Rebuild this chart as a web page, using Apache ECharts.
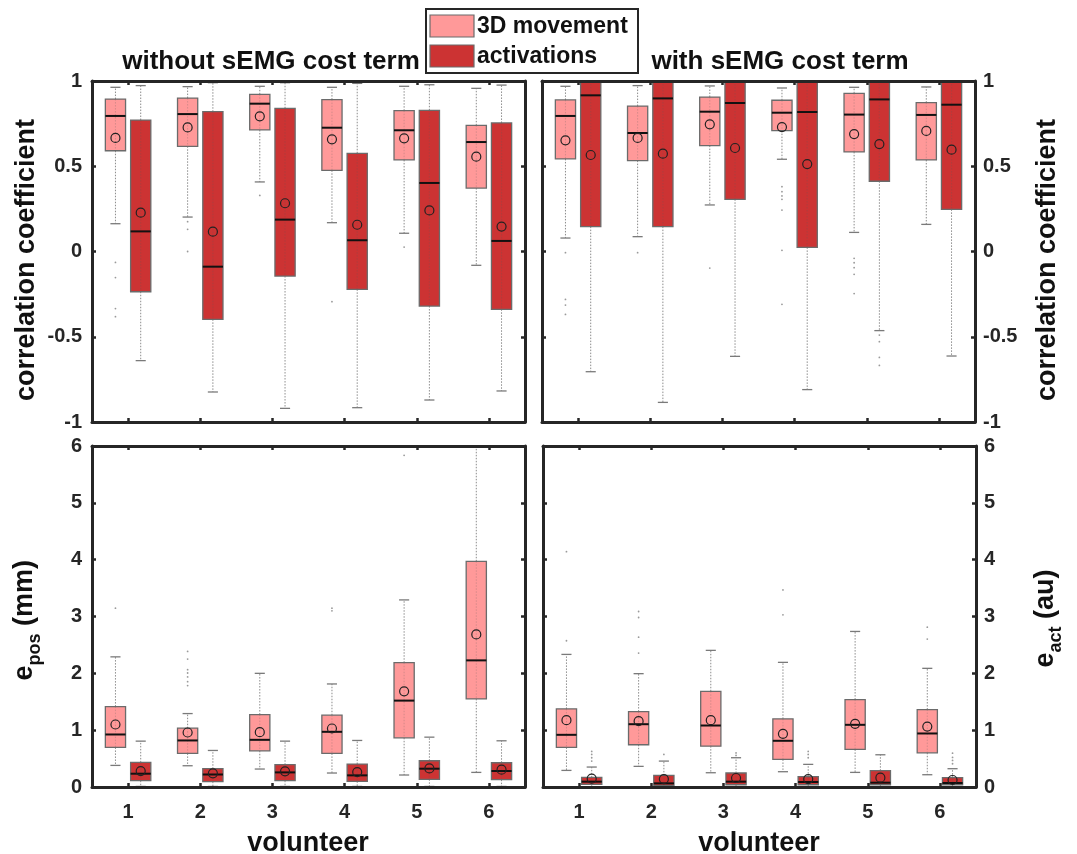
<!DOCTYPE html>
<html>
<head>
<meta charset="utf-8">
<script src="https://cdn.jsdelivr.net/npm/echarts@6/dist/echarts.min.js"></script>
<style>html,body{margin:0;padding:0;background:#fff}#c{width:1077px;height:854px}</style>
</head>
<body>
<div id="c"></div>
<script>
// ---------------- DATA ----------------
const volunteers = ['1', '2', '3', '4', '5', '6'];
const corrTicks = ['-1', '-0.5', '0', '0.5', '1'];
const errTicks = ['0', '1', '2', '3', '4', '5', '6'];

// each row: [lower whisker, Q1, median, Q3, upper whisker]
// correlation coefficient, without sEMG cost term
const corrNoEmgMove = [
  [0.163, 0.591, 0.795, 0.894, 0.963],
  [0.202, 0.617, 0.806, 0.900, 0.967],
  [0.408, 0.713, 0.867, 0.922, 0.969],
  [0.169, 0.476, 0.726, 0.891, 0.963],
  [0.107, 0.537, 0.711, 0.826, 0.969],
  [-0.081, 0.372, 0.642, 0.740, 0.957]
];
const corrNoEmgMoveMean = [0.666, 0.728, 0.793, 0.658, 0.664, 0.556];
const corrNoEmgMoveOut = [[0, -0.064], [0, -0.153], [0, -0.335], [0, -0.382], [1, 0.175], [1, 0.130], [1, 0.0], [2, 0.329], [3, -0.294], [4, 0.026]];
const corrNoEmgAct = [
  [-0.640, -0.236, 0.118, 0.771, 0.973],
  [-0.824, -0.398, -0.089, 0.820, 0.990],
  [-0.920, -0.144, 0.187, 0.840, 0.990],
  [-0.916, -0.222, 0.066, 0.576, 0.986],
  [-0.871, -0.320, 0.402, 0.828, 0.978],
  [-0.818, -0.339, 0.062, 0.754, 0.976]
];
const corrNoEmgActMean = [0.228, 0.116, 0.283, 0.157, 0.241, 0.146];
const corrNoEmgActOut = [];

// correlation coefficient, with sEMG cost term
const corrEmgMove = [
  [0.079, 0.543, 0.795, 0.889, 0.969],
  [0.087, 0.533, 0.695, 0.853, 0.973],
  [0.273, 0.621, 0.820, 0.906, 0.971],
  [0.541, 0.709, 0.814, 0.887, 0.959],
  [0.112, 0.584, 0.803, 0.928, 0.963],
  [0.159, 0.537, 0.801, 0.873, 0.965]
];
const corrEmgMoveMean = [0.652, 0.666, 0.746, 0.730, 0.689, 0.707];
const corrEmgMoveOut = [[0, -0.007], [0, -0.281], [0, -0.314], [0, -0.369], [1, -0.007], [2, -0.097],
  [3, 0.380], [3, 0.351], [3, 0.326], [3, 0.306], [3, 0.243], [3, 0.007], [3, -0.310],
  [4, -0.040], [4, -0.066], [4, -0.095], [4, -0.134], [4, -0.247]];
const corrEmgAct = [
  [-0.705, 0.146, 0.916, 1.0, 1.0],
  [-0.885, 0.146, 0.898, 1.0, 1.0],
  [-0.615, 0.306, 0.871, 1.0, 1.0],
  [-0.810, 0.024, 0.818, 1.0, 1.0],
  [-0.464, 0.412, 0.892, 1.0, 1.0],
  [-0.613, 0.247, 0.861, 1.0, 1.0]
];
const corrEmgActMean = [0.566, 0.574, 0.607, 0.513, 0.630, 0.597];
const corrEmgActOut = [[4, -0.490], [4, -0.529], [4, -0.621], [4, -0.668]];

// errors, without sEMG cost term
const errNoEmgMove = [
  [0.380, 0.696, 0.924, 1.415, 2.290],
  [0.374, 0.591, 0.819, 1.035, 1.292],
  [0.316, 0.637, 0.830, 1.275, 2.000],
  [0.246, 0.591, 0.971, 1.263, 1.813],
  [0.211, 0.865, 1.520, 2.187, 3.292],
  [0.257, 1.550, 2.228, 3.971, 6.300]
];
const errNoEmgMoveMean = [1.100, 0.959, 0.965, 1.029, 1.684, 2.684];
const errNoEmgMoveOut = [[0, 3.146], [1, 2.386], [1, 2.251], [1, 2.064], [1, 2.006], [1, 1.936], [1, 1.854], [1, 1.784], [3, 3.146], [3, 3.100], [4, 5.836]];
const errNoEmgAct = [
  [0.010, 0.111, 0.234, 0.433, 0.807],
  [0.010, 0.094, 0.220, 0.322, 0.643],
  [0.010, 0.111, 0.257, 0.392, 0.807],
  [0.010, 0.099, 0.205, 0.404, 0.819],
  [0.010, 0.135, 0.322, 0.462, 0.877],
  [0.010, 0.129, 0.281, 0.427, 0.813]
];
const errNoEmgActMean = [0.281, 0.240, 0.275, 0.263, 0.327, 0.304];
const errNoEmgActOut = [];

// errors, with sEMG cost term
const errEmgMove = [
  [0.292, 0.696, 0.918, 1.374, 2.333],
  [0.363, 0.743, 1.105, 1.327, 1.994],
  [0.251, 0.719, 1.082, 1.684, 2.404],
  [0.269, 0.485, 0.813, 1.199, 2.193],
  [0.257, 0.661, 1.094, 1.538, 2.737],
  [0.216, 0.602, 0.942, 1.363, 2.088]
];
const errEmgMoveMean = [1.175, 1.158, 1.175, 0.936, 1.111, 1.064];
const errEmgMoveOut = [[0, 4.140], [0, 2.573], [1, 3.088], [1, 2.982], [1, 2.637], [1, 2.357], [3, 3.468], [3, 3.029], [5, 2.813], [5, 2.602]];
const errEmgAct = [
  [0.005, 0.047, 0.094, 0.170, 0.351],
  [0.005, 0.030, 0.064, 0.205, 0.456],
  [0.005, 0.040, 0.094, 0.246, 0.515],
  [0.005, 0.040, 0.088, 0.181, 0.398],
  [0.005, 0.040, 0.076, 0.287, 0.567],
  [0.005, 0.040, 0.070, 0.164, 0.322]
];
const errEmgActMean = [0.146, 0.140, 0.158, 0.140, 0.164, 0.123];
const errEmgActOut = [[0, 0.626], [0, 0.573], [0, 0.515], [0, 0.456], [1, 0.573], [2, 0.600], [2, 0.556],
  [3, 0.626], [3, 0.573], [3, 0.515], [5, 0.596], [5, 0.520], [5, 0.468], [5, 0.409]];

// ---------------- STYLE ----------------
const FONT = '"Liberation Sans", Arial, Helvetica, sans-serif';
const LIGHT = '#FF9999';
const DARK = '#CC3333';
const AX = '#262626';

const grids = [
  { left: 92, top: 81, width: 433, height: 341 },
  { left: 542, top: 81, width: 433, height: 341 },
  { left: 92, top: 446, width: 433, height: 341 },
  { left: 543, top: 446, width: 433, height: 341 }
];

const xAxis = [], yAxis = [], series = [];

function catAxis(g, pos, labels) {
  return {
    type: 'category', gridIndex: g, position: pos, data: volunteers, boundaryGap: true, z: 10,
    axisLine: { show: true, onZero: false, lineStyle: { color: AX, width: 3 } },
    axisTick: { show: true, inside: true, alignWithLabel: true, interval: 0, length: 4, lineStyle: { color: AX, width: 2.5 } },
    axisLabel: { show: labels, interval: 0, margin: 15, color: AX, fontFamily: FONT, fontWeight: 'bold', fontSize: 20 },
    splitLine: { show: false }
  };
}
function valAxis(g, pos, labels, min, max, interval) {
  return {
    type: 'value', gridIndex: g, position: pos, min: min, max: max, interval: interval, z: 10,
    axisLine: { show: true, onZero: false, lineStyle: { color: AX, width: 3 } },
    axisTick: { show: true, inside: true, length: 4, lineStyle: { color: AX, width: 2.5 } },
    axisLabel: { show: labels, margin: pos === 'left' ? 10 : 8, color: AX, fontFamily: FONT, fontWeight: 'bold', fontSize: 20 },
    splitLine: { show: false }
  };
}

function boxSeries(axisIdx, stats, means, color, offsetFrac) {
  return {
    type: 'custom', xAxisIndex: axisIdx, yAxisIndex: axisIdx, clip: true, z: 3,
    data: stats.map((s, i) => [i, s[0], s[1], s[2], s[3], s[4], means[i]]),
    renderItem: function (params, api) {
      const ci = api.value(0);
      const band = api.size([1, 0])[0];
      const cx = api.coord([ci, 0])[0] + offsetFrac * band;
      const y = k => api.coord([ci, api.value(k)])[1];
      const yl = y(1), yq1 = y(2), ym = y(3), yq3 = y(4), yh = y(5), ymean = y(6);
      const bw = 0.28 * band, cap = bw / 4;
      const wStyle = { stroke: '#8c8c8c', lineWidth: 1, lineDash: [1.5, 1.5], fill: null };
      const cStyle = { stroke: '#7a7a7a', lineWidth: 1.3, fill: null };
      return {
        type: 'group',
        children: [
          { type: 'line', shape: { x1: cx, y1: yq3, x2: cx, y2: yh }, style: wStyle },
          { type: 'line', shape: { x1: cx, y1: yq1, x2: cx, y2: yl }, style: wStyle },
          { type: 'line', shape: { x1: cx - cap, y1: yh, x2: cx + cap, y2: yh }, style: cStyle },
          { type: 'line', shape: { x1: cx - cap, y1: yl, x2: cx + cap, y2: yl }, style: cStyle },
          { type: 'rect', shape: { x: cx - bw / 2, y: yq3, width: bw, height: yq1 - yq3 }, style: { fill: color, stroke: '#6b6b6b', lineWidth: 1.3 } },
          { type: 'line', shape: { x1: cx, y1: yq3, x2: cx, y2: yq1 }, style: { stroke: 'rgba(90,90,90,0.25)', lineWidth: 1, lineDash: [1.5, 1.5], fill: null } },
          { type: 'line', shape: { x1: cx - bw / 2, y1: ym, x2: cx + bw / 2, y2: ym }, style: { stroke: '#111', lineWidth: 2, fill: null } },
          { type: 'circle', shape: { cx: cx, cy: ymean, r: 4.5 }, style: { stroke: '#222', lineWidth: 1.2, fill: null } }
        ]
      };
    }
  };
}
function outlierSeries(axisIdx, pts, offsetFrac) {
  return {
    type: 'custom', xAxisIndex: axisIdx, yAxisIndex: axisIdx, clip: true, z: 3,
    data: pts,
    renderItem: function (params, api) {
      const band = api.size([1, 0])[0];
      const p = api.coord([api.value(0), api.value(1)]);
      return { type: 'circle', shape: { cx: p[0] + offsetFrac * band, cy: p[1], r: 0.9 }, style: { fill: '#9a9a9a' } };
    }
  };
}

const panels = [
  { move: corrNoEmgMove, moveMean: corrNoEmgMoveMean, moveOut: corrNoEmgMoveOut, act: corrNoEmgAct, actMean: corrNoEmgActMean, actOut: corrNoEmgActOut, min: -1, max: 1, iv: 0.5, ySide: 'left', xl: false },
  { move: corrEmgMove, moveMean: corrEmgMoveMean, moveOut: corrEmgMoveOut, act: corrEmgAct, actMean: corrEmgActMean, actOut: corrEmgActOut, min: -1, max: 1, iv: 0.5, ySide: 'right', xl: false },
  { move: errNoEmgMove, moveMean: errNoEmgMoveMean, moveOut: errNoEmgMoveOut, act: errNoEmgAct, actMean: errNoEmgActMean, actOut: errNoEmgActOut, min: 0, max: 6, iv: 1, ySide: 'left', xl: true },
  { move: errEmgMove, moveMean: errEmgMoveMean, moveOut: errEmgMoveOut, act: errEmgAct, actMean: errEmgActMean, actOut: errEmgActOut, min: 0, max: 6, iv: 1, ySide: 'right', xl: true }
];

panels.forEach((p, g) => {
  xAxis.push(catAxis(g, 'bottom', p.xl));
  xAxis.push(catAxis(g, 'top', false));
  yAxis.push(valAxis(g, 'left', p.ySide === 'left', p.min, p.max, p.iv));
  yAxis.push(valAxis(g, 'right', p.ySide === 'right', p.min, p.max, p.iv));
  const ai = 2 * g;
  series.push(outlierSeries(ai, p.moveOut, -0.175));
  series.push(outlierSeries(ai, p.actOut, 0.175));
  series.push(boxSeries(ai, p.move, p.moveMean, LIGHT, -0.175));
  series.push(boxSeries(ai, p.act, p.actMean, DARK, 0.175));
});

function txt(x, y, text, size, rot, align) {
  return {
    type: 'text', x: x, y: y, rotation: rot || 0, z: 20,
    style: { text: text, font: 'bold ' + size + 'px ' + FONT, fill: '#111',
      align: align || 'center', textAlign: align || 'center', verticalAlign: 'middle', textVerticalAlign: 'middle' }
  };
}
function subLabel(x, y, main, sub, rest, mainW, subW) {
  const total = mainW + subW;
  return {
    type: 'group', x: x, y: y, rotation: Math.PI / 2, z: 20,
    children: [
      { type: 'text', x: -total / 2 - 28, y: 0, style: { text: main, font: 'bold 27px ' + FONT, fill: '#111', align: 'left', textAlign: 'left', verticalAlign: 'middle', textVerticalAlign: 'middle' } },
      { type: 'text', x: -total / 2 - 28 + mainW, y: 10, style: { text: sub, font: 'bold 18px ' + FONT, fill: '#111', align: 'left', textAlign: 'left', verticalAlign: 'middle', textVerticalAlign: 'middle' } },
      { type: 'text', x: -total / 2 - 28 + mainW + subW, y: 0, style: { text: rest, font: 'bold 27px ' + FONT, fill: '#111', align: 'left', textAlign: 'left', verticalAlign: 'middle', textVerticalAlign: 'middle' } }
    ]
  };
}

const graphic = [
  txt(271, 62, 'without sEMG cost term', 26),
  txt(780, 62, 'with sEMG cost term', 26),
  txt(27, 260, 'correlation coefficient', 27, Math.PI / 2),
  txt(1048, 260, 'correlation coefficient', 27, Math.PI / 2),
  txt(308, 844, 'volunteer', 27),
  txt(759, 844, 'volunteer', 27),
  subLabel(25, 629, 'e', 'pos', ' (mm)', 15, 32),
  subLabel(1046, 619, 'e', 'act', ' (au)', 15, 26),
  // legend
  { type: 'rect', z: 30, shape: { x: 426, y: 9, width: 212, height: 64 }, style: { fill: '#fff', stroke: AX, lineWidth: 2 } },
  { type: 'rect', z: 31, shape: { x: 430, y: 15, width: 44, height: 22 }, style: { fill: LIGHT, stroke: '#6b6b6b', lineWidth: 1.2 } },
  { type: 'rect', z: 31, shape: { x: 430, y: 45, width: 44, height: 22 }, style: { fill: DARK, stroke: '#6b6b6b', lineWidth: 1.2 } },
  Object.assign(txt(477, 27, '3D movement', 23, 0, 'left'), { z: 32 }),
  Object.assign(txt(477, 57, 'activations', 23, 0, 'left'), { z: 32 })
];

const chart = echarts.init(document.getElementById('c'), null, { renderer: 'canvas' });
chart.setOption({
  animation: false,
  backgroundColor: '#fff',
  grid: grids.map(g => Object.assign({ containLabel: false }, g)),
  xAxis: xAxis,
  yAxis: yAxis,
  series: series,
  graphic: graphic
});
</script>
</body>
</html>
